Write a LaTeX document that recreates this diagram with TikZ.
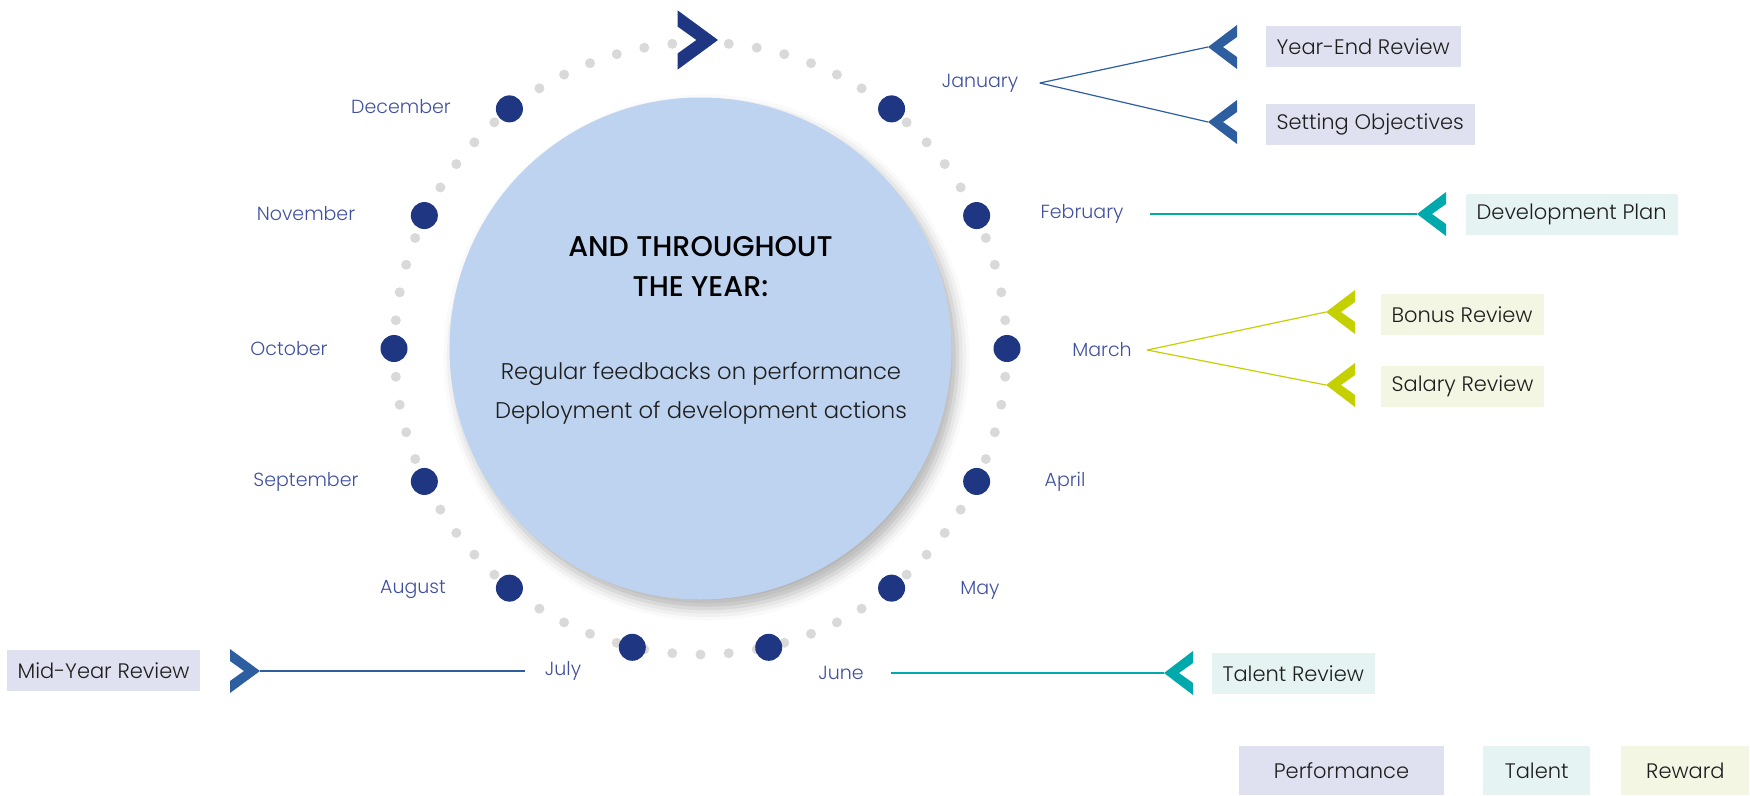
\documentclass[tikz,border=0pt]{standalone}
\usepackage{fontspec}
\setmainfont{Poppins Light}
\newfontfamily\headfont{Poppins Medium}
\usepackage{tikz}
\usetikzlibrary{positioning}
\usetikzlibrary{shadows.blur}

\definecolor{navy}{RGB}{31,54,130}
\definecolor{monthblue}{RGB}{64,80,160}
\definecolor{perfblue}{RGB}{44,94,160}
\definecolor{talentteal}{RGB}{0,170,172}
\definecolor{rewardlime}{RGB}{196,208,0}
\definecolor{perffill}{RGB}{223,225,240}
\definecolor{talentfill}{RGB}{230,243,243}
\definecolor{rewardfill}{RGB}{243,246,226}
\definecolor{bubble}{RGB}{189,211,239}
\definecolor{dotgrey}{RGB}{217,217,217}
\definecolor{ink}{RGB}{30,30,30}

\tikzset{
  chevl/.pic={\fill (0,0) -- (29,-22) -- (29,-10) -- (15,0) -- (29,10) -- (29,22) -- cycle;},
  chevr/.pic={\fill (0,0) -- (-30,-22) -- (-30,-10) -- (-16,0) -- (-30,10) -- (-30,22) -- cycle;}
}

\begin{document}
\begin{tikzpicture}[x=1pt,y=-1pt,line width=1.2pt]
	\tikzstyle{month}=[text=monthblue, inner sep=2pt, font=\fontsize{19}{22}\selectfont]
	\tikzstyle{mdot}=[circle, fill=navy, inner sep=0pt, minimum size=27pt]
	\tikzstyle{tag}=[anchor=west, inner xsep=11pt, inner ysep=0pt, minimum height=41pt, text=ink, font=\fontsize{21}{24}\selectfont]
	\tikzstyle{key}=[inner sep=0pt, minimum height=49pt, text=ink, font=\fontsize{21}{24}\selectfont]
	\useasboundingbox (0,0) rectangle (1750,795);
	\coordinate (ctr) at (700.5,348.5);

	% grey ring and the big circle
	\foreach \k in {0,...,67}
		\fill[dotgrey] (ctr) ++(\k*5.294118:306) circle (5);
	\node[circle, fill=bubble, inner sep=0pt, minimum size=502pt,
		blur shadow={shadow xshift=6pt, shadow yshift=-9pt, shadow blur radius=12pt, shadow opacity=30}] (core) at (ctr) {};
	\node[align=center, text=black, font=\headfont\fontsize{28.5}{40}\selectfont] (head) at (700.5,267) {AND THROUGHOUT\\THE YEAR:};
	\node[align=center, text=ink, font=\fontsize{22.7}{39}\selectfont] (body) at (701,393.5) {Regular feedbacks on performance\\Deployment of development actions};

	% month dots
	\foreach \m/\a in {jan/51.43, feb/25.71, mar/0, apr/-25.71, may/-51.43, jun/-77.14,
		jul/-102.86, aug/-128.57, sep/-154.29, oct/180, nov/154.29, dec/128.57}
		\path (ctr) ++(-\a:306.5) node[mdot] (d\m) {};
	\pic[navy, scale=1.35] at (718,40) {chevr};

	% month labels
	\node[month] (jan) at (980,83) {January};
	\node[month] (feb) at (1082,214) {February};
	\node[month] (mar) at (1102,350) {March};
	\node[month] (apr) at (1065,482) {April};
	\node[month] (may) at (980,590) {May};
	\node[month] (jun) at (841,673) {June};
	\node[month] (jul) at (563,671) {July};
	\node[month] (aug) at (413,589) {August};
	\node[month] (sep) at (306,482) {September};
	\node[month] (oct) at (289,349) {October};
	\node[month] (nov) at (306,214) {November};
	\node[month] (dec) at (401,107) {December};

	% chevrons
	\coordinate (yeTip) at (1208,47);
	\coordinate (soTip) at (1208,122);
	\coordinate (dpTip) at (1417,214);
	\coordinate (brTip) at (1326,312);
	\coordinate (srTip) at (1326,385);
	\coordinate (trTip) at (1164,673);
	\coordinate (myTip) at (260,671);
	\pic[perfblue] at (yeTip) {chevl};
	\pic[perfblue] at (soTip) {chevl};
	\pic[talentteal] at (dpTip) {chevl};
	\pic[rewardlime] at (brTip) {chevl};
	\pic[rewardlime] at (srTip) {chevl};
	\pic[talentteal] at (trTip) {chevl};
	\pic[perfblue] at (myTip) {chevr};

	% events
	\node[tag, fill=perffill] (ye) at (1265,46.5) {Year-End Review};
	\node[tag, fill=perffill] (so) at (1265,124.5) {Setting Objectives};
	\node[tag, fill=talentfill] (dp) at (1465,214.5) {Development Plan};
	\node[tag, fill=rewardfill] (br) at (1380,314.5) {Bonus Review};
	\node[tag, fill=rewardfill, below=30pt of br.south west, anchor=north west] (sr) {Salary Review};
	\node[tag, fill=talentfill] (tr) at (1211,673.5) {Talent Review};
	\node[tag, fill=perffill] (my) at (6,670.5) {Mid-Year Review};

	\path[draw=perfblue]
		([xshift=19pt]jan.east) edge (yeTip)
		([xshift=19pt]jan.east) edge (soTip)
		(myTip) edge ([xshift=-17pt]jul.west);
	\path[draw=talentteal]
		([xshift=24pt]feb.east) edge (dpTip)
		([xshift=25pt]jun.east) edge (trTip);
	\path[draw=rewardlime]
		([xshift=13pt]mar.east) edge (brTip)
		([xshift=13pt]mar.east) edge (srTip);

	% legend
	\node[key, fill=perffill, minimum width=205pt] (perf) at (1341.5,770.5) {Performance};
	\node[key, fill=talentfill, minimum width=107pt, right=38pt of perf] (tal) {Talent};
	\node[key, fill=rewardfill, minimum width=128pt, right=30pt of tal] (rew) {Reward};
\end{tikzpicture}
\end{document}
